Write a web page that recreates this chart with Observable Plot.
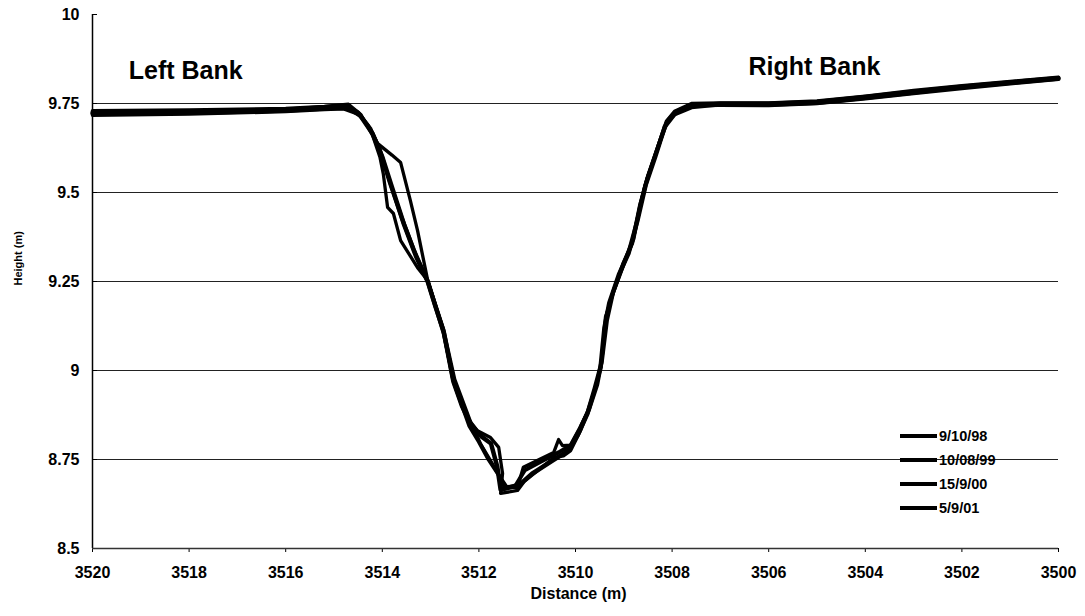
<!DOCTYPE html>
<html>
<head>
<meta charset="utf-8">
<script src="https://cdn.jsdelivr.net/npm/d3@7"></script>
<script src="https://cdn.jsdelivr.net/npm/@observablehq/plot@0.6"></script>
<style>
  html, body { margin: 0; padding: 0; background: #fff; }
  #wrap { position: relative; width: 1085px; height: 616px; font-family: "Liberation Sans", Arial, sans-serif; }
  #legend { position: absolute; left: 900px; top: 424px; font-weight: bold; font-size: 14.5px; color: #000; }
  .row { display: flex; align-items: center; height: 24px; }
  .sw { width: 37px; background: #000; margin-right: 2px; }
</style>
</head>
<body>
<div id="wrap"></div>
<script>
// Survey series: [distance (m), height (m)]
const survey98 = [[3520,9.722],[3519,9.722],[3518,9.724],[3517,9.727],[3516,9.730],[3515.2,9.736],[3514.7,9.738],[3514.45,9.715],[3514.2,9.665],[3514.0,9.60],[3513.8,9.515],[3513.55,9.41],[3513.3,9.32],[3513.06,9.25],[3512.9,9.18],[3512.73,9.11],[3512.53,8.97],[3512.35,8.90],[3512.17,8.85],[3511.95,8.815],[3511.75,8.795],[3511.62,8.73],[3511.55,8.665],[3511.35,8.672],[3511.15,8.68],[3510.9,8.71],[3510.5,8.745],[3510.15,8.775],[3509.95,8.82],[3509.75,8.88],[3509.6,8.95],[3509.48,9.01],[3509.4,9.12],[3509.3,9.19],[3509.1,9.27],[3508.9,9.33],[3508.72,9.42],[3508.55,9.52],[3508.35,9.6],[3508.15,9.685],[3507.95,9.72],[3507.6,9.74],[3507,9.748],[3506,9.747],[3505,9.752],[3504,9.766],[3503,9.781],[3502,9.796],[3501,9.808],[3500,9.82]];
const survey99 = [[3520,9.726],[3518,9.728],[3516,9.733],[3515.2,9.74],[3514.75,9.745],[3514.5,9.725],[3514.25,9.68],[3514.05,9.62],[3513.85,9.53],[3513.6,9.43],[3513.35,9.34],[3513.06,9.25],[3512.73,9.105],[3512.5,8.96],[3512.2,8.845],[3512.0,8.80],[3511.8,8.75],[3511.61,8.711],[3511.45,8.672],[3511.25,8.675],[3511.05,8.72],[3510.7,8.745],[3510.35,8.77],[3510.1,8.79],[3509.9,8.84],[3509.72,8.89],[3509.55,8.96],[3509.45,9.03],[3509.35,9.14],[3509.22,9.22],[3509.0,9.30],[3508.8,9.37],[3508.65,9.47],[3508.5,9.545],[3508.25,9.645],[3508.1,9.70],[3507.85,9.732],[3507.5,9.745],[3507,9.75],[3506,9.75],[3505,9.755],[3504,9.769],[3503,9.784],[3502,9.798],[3501,9.81],[3500,9.822]];
const survey00 = [[3520,9.717],[3518,9.72],[3516,9.727],[3515.2,9.733],[3514.8,9.735],[3514.5,9.72],[3514.3,9.69],[3514.1,9.638],[3513.8,9.605],[3513.62,9.584],[3513.42,9.478],[3513.27,9.393],[3513.06,9.253],[3512.75,9.12],[3512.55,8.98],[3512.2,8.86],[3512.03,8.831],[3511.76,8.812],[3511.59,8.784],[3511.51,8.711],[3511.55,8.655],[3511.2,8.663],[3511.05,8.69],[3510.45,8.755],[3510.25,8.76],[3510.1,8.775],[3509.9,8.83],[3509.75,8.88],[3509.55,8.97],[3509.45,9.04],[3509.38,9.15],[3509.2,9.225],[3509.0,9.30],[3508.82,9.357],[3508.65,9.469],[3508.51,9.542],[3508.24,9.646],[3508.1,9.702],[3507.97,9.722],[3507.83,9.73],[3507.56,9.744],[3507,9.745],[3506,9.744],[3505,9.75],[3504,9.763],[3503,9.778],[3502,9.792],[3501,9.805],[3500,9.818]];
const survey01 = [[3520,9.73],[3518,9.732],[3516,9.736],[3515.2,9.742],[3514.7,9.748],[3514.45,9.72],[3514.2,9.66],[3514.05,9.60],[3513.98,9.553],[3513.89,9.458],[3513.77,9.441],[3513.62,9.365],[3513.27,9.289],[3513.06,9.253],[3512.73,9.115],[3512.5,8.975],[3512.17,8.855],[3511.97,8.795],[3511.75,8.745],[3511.61,8.711],[3511.41,8.671],[3511.2,8.672],[3511.08,8.728],[3510.75,8.75],[3510.45,8.77],[3510.35,8.806],[3510.27,8.789],[3510.1,8.79],[3509.92,8.835],[3509.75,8.885],[3509.56,8.965],[3509.46,9.02],[3509.37,9.15],[3509.22,9.222],[3509.02,9.30],[3508.84,9.355],[3508.67,9.465],[3508.52,9.54],[3508.27,9.64],[3508.12,9.70],[3507.95,9.728],[3507.6,9.75],[3507,9.752],[3506,9.752],[3505,9.757],[3504,9.771],[3503,9.787],[3502,9.80],[3501,9.812],[3500,9.824]];

const seriesNames = ["9/10/98", "10/08/99", "15/9/00", "5/9/01"];
const seriesWidths = [4.5, 4, 3.3, 3.3];
const seriesData = [survey98, survey99, survey00, survey01];

const xTicks = [3520, 3518, 3516, 3514, 3512, 3510, 3508, 3506, 3504, 3502, 3500];
const yTicks = [8.5, 8.75, 9, 9.25, 9.5, 9.75, 10];
const gridValues = [8.75, 9, 9.25, 9.5, 9.75];
const bankLabels = [
  {text: "Left Bank", x: 3519.25, y: 9.82},
  {text: "Right Bank", x: 3506.42, y: 9.829}
];

const lineMarks = seriesData.map((s, i) =>
  Plot.line(s, {x: d => d[0], y: d => d[1], stroke: "#000", strokeWidth: seriesWidths[i], strokeLinejoin: "round", strokeLinecap: "round"})
);

const chart = Plot.plot({
  width: 1085,
  height: 616,
  marginLeft: 92,
  marginRight: 27,
  marginTop: 14,
  marginBottom: 68,
  style: {fontFamily: "'Liberation Sans', Arial, sans-serif", fontWeight: "bold", fontSize: "16px", color: "#000", background: "#fff"},
  x: {domain: [3520, 3500], ticks: xTicks},
  y: {domain: [8.5, 10], ticks: yTicks},
  marks: [
    Plot.ruleY(gridValues, {stroke: "#222", strokeWidth: 1.2}),
    Plot.axisX({ticks: xTicks, tickSize: 4, tickPadding: 14, tickFormat: d => String(d), label: null, fontSize: 16}),
    Plot.axisY({ticks: yTicks, tickSize: -5, tickPadding: 18, tickFormat: d => String(d), label: null, fontSize: 16}),
    Plot.ruleX([3520], {stroke: "#000", strokeWidth: 1.5}),
    Plot.ruleY([8.5], {stroke: "#333", strokeWidth: 1.5}),
    ...lineMarks,
    Plot.text(bankLabels, {x: "x", y: "y", text: "text", textAnchor: "start", lineAnchor: "bottom", fontSize: 25, fontWeight: "bold", fill: "#000"}),
    Plot.text(["Distance (m)"], {frameAnchor: "bottom", dy: 50, dx: 3, fontSize: 16, fontWeight: "bold", fill: "#000"}),
    Plot.text(["Height (m)"], {frameAnchor: "left", rotate: -90, dx: -74, dy: 4, fontSize: 11, fontWeight: "bold", fill: "#000"})
  ]
});

const wrap = document.getElementById("wrap");
wrap.appendChild(chart);

const legend = document.createElement("div");
legend.id = "legend";
seriesNames.forEach((name, i) => {
  const row = document.createElement("div");
  row.className = "row";
  const sw = document.createElement("div");
  sw.className = "sw";
  sw.style.height = seriesWidths[i] + "px";
  const label = document.createElement("span");
  label.textContent = name;
  row.appendChild(sw);
  row.appendChild(label);
  legend.appendChild(row);
});
wrap.appendChild(legend);
</script>
</body>
</html>
